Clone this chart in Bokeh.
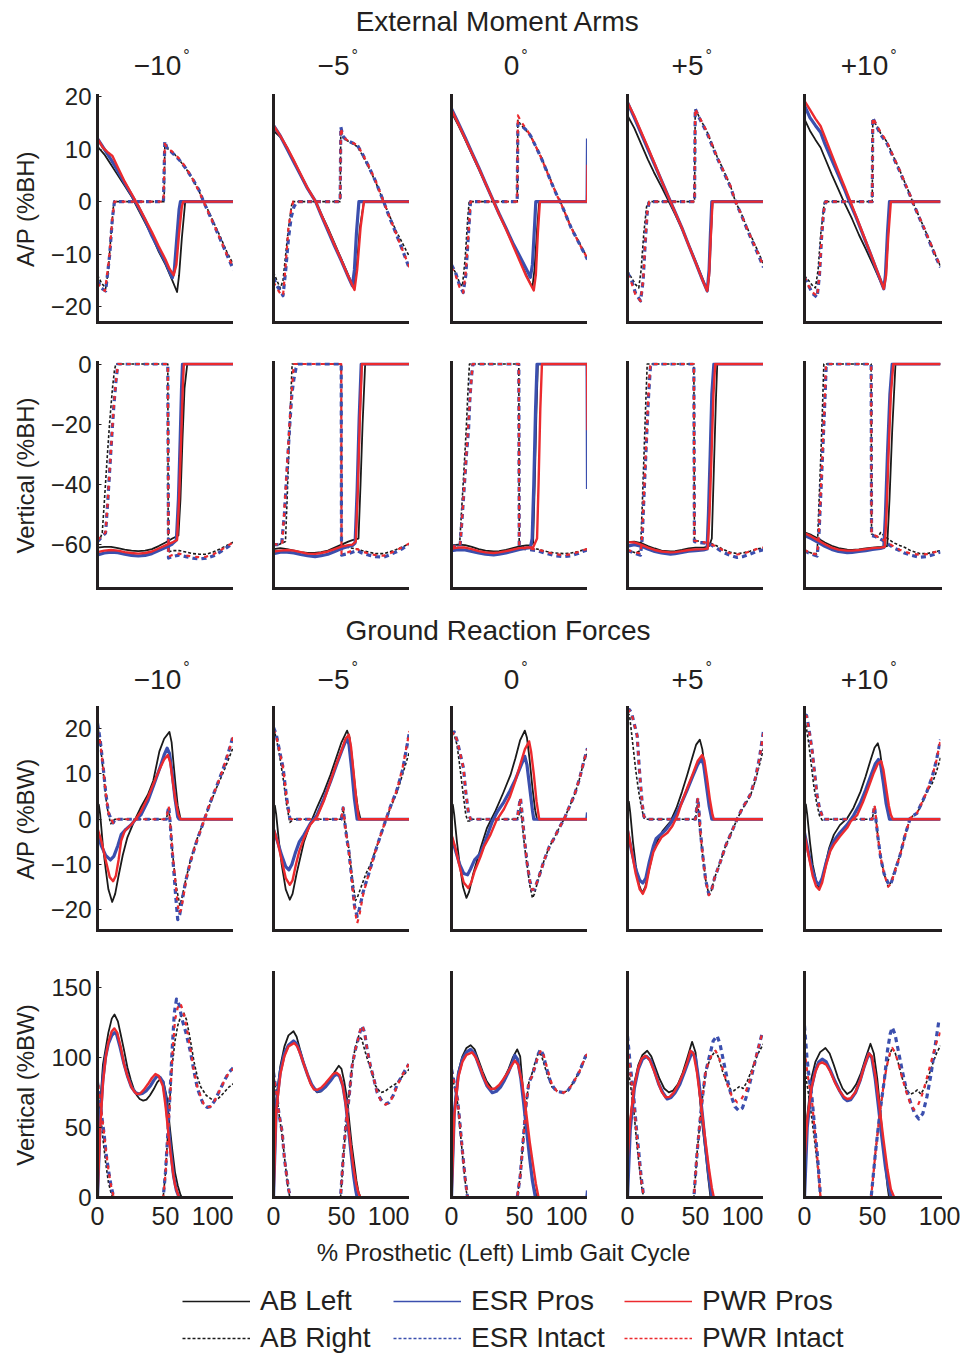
from bokeh.plotting import figure
from bokeh.layouts import column, row
from bokeh.models import Range1d, FixedTicker, Label, Legend, LegendItem
from bokeh.embed import file_html
from bokeh.resources import INLINE
from bokeh.core.validation import silence
from bokeh.core.validation.warnings import MISSING_RENDERERS

silence(MISSING_RENDERERS, True)

# ---------------------------------------------------------------- labels
ANGLES = ["\u221210", "\u22125", "0", "+5", "+10"]
SERIES = ["AB Left", "AB Right", "ESR Pros", "ESR Intact", "PWR Pros", "PWR Intact"]
X_TICKS = [0, 50, 100]
Y_TICKS_MA_AP = [-20, -10, 0, 10, 20]
Y_TICKS_MA_V = [-60, -40, -20, 0]
Y_TICKS_GRF_AP = [-20, -10, 0, 10, 20]
Y_TICKS_GRF_V = [0, 50, 100, 150]

# ---------------------------------------------------------------- data
# each series: five curves (-10, -5, 0, +5, +10 deg), each a list of (% gait cycle, value)

# External moment arm, A/P (%BH)
MA_AP_AB_LEFT = [
    [(0,10.5),(5,9),(10,7),(15,5),(20,3),(25,1),(30,-1.5),(35,-4),(40,-6.5),(45,-9.5),(50,-12),(55,-15),(58.5,-17.2),(60,-14),(62,-7),(64.5,0),(100,0)],
    [(0,13.5),(5,12.3),(10,10.3),(15,7.5),(20,5),(25,2.5),(31,0),(35,-2.3),(40,-5),(45,-8),(50,-11),(55,-14),(59,-16.5),(61,-13),(63.5,-5),(66.5,0),(100,0)],
    [(0,17),(5,14.5),(10,11.8),(15,9),(20,6.2),(25,3.4),(31,0),(35,-2.3),(40,-5),(45,-8),(50,-11),(55,-14),(59.5,-16.3),(61,-13),(63,-5),(64.5,0),(100,0)],
    [(0,16.4),(5,14),(10,11),(15,8),(19.4,5.6),(25,2.8),(30.4,0),(35,-2.4),(40,-5.2),(45,-8.2),(50,-11.3),(55,-14.5),(58.6,-17),(60,-14),(61,-8),(62.5,0),(100,0)],
    [(0,15.7),(4,13.5),(8,11.8),(11.8,10.3),(15,8.3),(20,5.2),(25,2.3),(28.9,0),(35,-3.3),(40,-6.3),(45,-9),(50,-11.8),(55,-14.7),(58.3,-16.6),(60,-13),(61.5,-6),(63,0),(100,0)],
]
MA_AP_AB_RIGHT = [
    [(0,-14),(3,-15.5),(6,-16.5),(8,-13),(10,-6),(12,0),(49,0),(49.5,10.5),(52,10),(56,9.2),(60,8),(65,6.3),(70,4.3),(75,1.8),(78,0),(82,-2),(86,-4.3),(90,-6.5),(95,-9.5),(100,-12)],
    [(0,-13.5),(2.5,-15),(5,-16.5),(7,-15),(9,-10),(11,-5),(13.7,0),(49,0),(49.5,13.5),(51,12.2),(53,11.8),(57,11.2),(61.5,10.5),(65,9),(70,6.5),(75,3.8),(81,0),(85,-2.5),(90,-5.5),(95,-8),(100,-10.5)],
    [(0,-12.2),(3,-13.5),(6,-15.5),(8,-16.1),(10,-11),(12,-3),(13,0),(48.3,0),(48.8,15.5),(51,14.6),(55,13.5),(58,12.6),(62,10.5),(66,8.5),(70,6),(74,3.5),(78,1),(80,0),(84,-2.5),(88,-4.8),(92,-6.8),(96,-8.8),(100,-10.8)],
    [(0,-13.2),(3,-14.5),(6,-15.8),(8.3,-16.4),(10,-13),(12,-6),(14,-1),(15.7,0),(49.3,0),(49.8,17.5),(52,16.5),(55,15),(58.6,13.2),(62,11),(66,8.5),(70,6.3),(75.7,3),(79.4,0),(84,-2.5),(88,-5),(92,-7.2),(96,-9.5),(100,-11.9)],
    [(0,-14.1),(3,-15),(6,-16),(8,-16.4),(10,-13),(12,-6),(14.7,0),(49.8,0),(50.2,15.5),(53,14.5),(56,13),(60.8,11.3),(65,8.8),(70,6),(74,3.5),(77.9,1.1),(79.4,0),(84,-2.7),(88,-5),(92,-7.5),(96,-10),(100,-12.3)],
]
MA_AP_ESR_PROS = [
    [(0,12),(5,10),(10,8),(15,5.8),(20,3.5),(25,1.3),(30,-1),(35,-3.5),(40,-6.5),(45,-9),(50,-11.5),(55,-14.5),(56.5,-13),(58,-8),(60,-1.5),(61,0),(100,0)],
    [(0,14.5),(5,12.5),(10,10),(15,7.5),(20,5),(25,2.5),(31,0),(35,-2.5),(40,-5.5),(45,-8.5),(50,-11.3),(55,-14.3),(58,-16),(59.5,-13),(61,-6),(62.8,0),(100,0)],
    [(0,17.7),(5,15),(10,12.2),(15,9.3),(20,6.5),(25,3.5),(31,0),(35,-2.3),(40,-5),(45,-7.8),(50,-10.3),(55,-12.8),(58,-14.4),(59.5,-12),(61,-5),(62,0),(99.7,0),(100,12)],
    [(0,18.9),(5,16),(10,13),(15,10),(20,7),(25,4),(31.6,0),(35,-2),(40,-5),(45,-8.3),(50,-11.5),(55,-14.8),(58.6,-17),(60,-13),(61,-6),(62,0),(100,0)],
    [(0,18.3),(4,16),(8,14.5),(11.8,13.2),(15,11),(20,8),(25,5),(30,2),(33,0),(38,-3),(43,-6.3),(48,-9.6),(53,-13),(58.3,-16.6),(59.5,-14),(61,-6),(62.5,0),(100,0)],
]
MA_AP_ESR_INTACT = [
    [(0,-15),(3,-16.5),(6,-17),(9,-10),(11,-3),(12.5,0),(48.5,0),(49.5,11.5),(51,10.3),(55,9.3),(60,8),(65,6.3),(70,4.3),(75,2),(78,0),(82,-2.3),(86,-4.6),(90,-7),(95,-10),(100,-13)],
    [(0,-14.5),(2.5,-16),(5,-17),(7,-17.9),(9,-13),(11,-7),(13,-3),(15,-1),(17.2,0),(49,0),(49.5,14.2),(51,12.5),(53,11.9),(57,11.3),(61.5,10.8),(65,9.3),(70,6.7),(75,3.9),(81,0),(85,-2.8),(90,-6),(95,-9.3),(100,-12.8)],
    [(0,-12),(3,-13.5),(6,-16),(8.6,-17.3),(10.5,-14),(12.5,-6),(14,0),(48.3,0),(48.8,14.8),(51,14.6),(55,13.6),(58,12.6),(62,10.5),(66,8.3),(70,5.8),(74,3.3),(78,0.9),(80,0),(84,-2.5),(88,-5),(92,-7),(96,-9),(100,-11)],
    [(0,-13.5),(3,-15),(6,-17.5),(9.6,-18.9),(11.5,-15),(13,-8),(14.5,-2),(16,0),(49.3,0),(49.8,17.7),(52,16.3),(55,14.8),(58.6,13),(62,10.8),(66,8.3),(70,6),(75.7,2.8),(79.4,0),(84,-2.7),(88,-5.3),(92,-7.7),(96,-10),(100,-12.5)],
    [(0,-14.5),(3,-16),(6,-17.5),(9.3,-18.2),(11,-14),(12.5,-7),(14,-2),(15.5,0),(49.8,0),(50.2,16),(53,14.3),(56,12.8),(60.8,11),(65,8.6),(70,5.8),(74,3.3),(77.9,1),(79.4,0),(84,-2.8),(88,-5.2),(92,-7.7),(96,-10.2),(100,-12.5)],
]
MA_AP_PWR_PROS = [
    [(0,12),(4,10.3),(8,9.3),(11,8.7),(15,6.5),(20,3.8),(25,1.5),(30,-0.8),(35,-3.3),(40,-5.8),(45,-8.5),(50,-11),(53,-12.8),(56,-14),(58,-12),(60,-6),(62,-1),(63,0),(100,0)],
    [(0,14.5),(5,12.5),(10,10.3),(15,7.8),(20,5.2),(25,2.6),(31,0),(35,-2.4),(40,-5.3),(45,-8.3),(50,-11.2),(55,-14.2),(59.6,-16.8),(61.5,-13),(64,-5),(66.5,0),(100,0)],
    [(0,17.5),(5,14.8),(10,12),(15,9.2),(20,6.4),(25,3.5),(31,0),(35,-2.4),(40,-5.2),(45,-8.2),(50,-11.2),(55,-14.2),(60.5,-16.9),(62,-14),(63.5,-6),(65,0),(99.7,0),(100,7)],
    [(0,18.9),(5,16.3),(10,13.3),(15,10.3),(20,7.2),(25,4),(31.6,0),(35,-2),(40,-5),(45,-8.3),(50,-11.5),(55,-14.8),(58.6,-17),(60,-14),(61.2,-7),(62.5,0),(100,0)],
    [(0,19.2),(4,17.5),(8,15.8),(11.8,14.4),(15,12.3),(20,9),(25,5.7),(30,2.5),(33.8,0),(38,-2.8),(43,-6.1),(48,-9.5),(53,-12.9),(58.3,-16.6),(60,-14),(61.5,-7),(63.5,0),(100,0)],
]
MA_AP_PWR_INTACT = [
    [(0,-15.5),(3,-16.5),(5.5,-17),(8.5,-11),(11,-3),(12.5,0),(48.5,0),(49.5,11),(51,10.3),(55,9.5),(60,8.2),(65,6.5),(70,4.3),(75,1.8),(78,0),(82,-2.3),(86,-4.6),(90,-7),(95,-10),(100,-12.5)],
    [(0,-15.3),(2.5,-16.5),(5,-17.5),(7,-17.9),(9,-12),(11,-5),(13,-1.5),(14.5,0),(49,0),(49.5,14),(51,12.5),(53,11.9),(57,11.3),(61.5,10.8),(65,9.3),(70,6.8),(75,4),(81,0),(85,-2.7),(90,-6),(95,-9.3),(100,-12.5)],
    [(0,-12.5),(3,-14),(6,-16.3),(8.6,-17.3),(10.5,-13.5),(12.5,-6),(14,0),(48.3,0),(48.8,16.4),(51,15.3),(55,13.8),(58,12.6),(62,10.5),(66,8.3),(70,5.8),(74,3.3),(78,0.9),(80,0),(84,-2.5),(88,-5),(92,-7),(96,-9),(100,-10.8)],
    [(0,-13.8),(3,-15.5),(6,-17.8),(9.6,-18.9),(11.5,-15),(13,-8),(14.5,-2),(16,0),(49.3,0),(49.8,17.7),(52,16.5),(55,15),(58.6,13.2),(62,11),(66,8.5),(70,6.2),(75.7,3),(79.4,0),(84,-2.6),(88,-5.2),(92,-7.5),(96,-9.8),(100,-12.3)],
    [(0,-14.3),(3,-16),(6,-17.3),(9.3,-18),(11,-14),(12.5,-7),(14,-2),(15.5,0),(49.8,0),(50.2,16),(53,14.6),(56,13.2),(60.8,11.3),(65,8.8),(70,6),(74,3.5),(77.9,1.1),(79.4,0),(84,-2.7),(88,-5),(92,-7.5),(96,-10),(100,-12.3)],
]

# External moment arm, vertical (%BH)
MA_V_AB_LEFT = [
    [(0,-61),(5,-60.8),(10,-60.8),(15,-61.2),(20,-61.7),(25,-62),(30,-62.2),(35,-62),(40,-61.5),(45,-60.5),(50,-59.3),(55,-58),(59.5,-57),(61,-45),(62.5,-25),(64,-8),(66,0),(100,0)],
    [(0,-61.5),(5,-61.2),(10,-61.5),(15,-62),(20,-62.5),(25,-62.8),(30,-62.8),(35,-62.5),(40,-62),(45,-61),(50,-60),(55,-59),(58,-58.5),(62.5,-58),(64,-40),(65.5,-20),(67.4,0),(100,0)],
    [(0,-60.3),(5,-60),(10,-60.2),(15,-60.8),(20,-61.5),(25,-62),(31,-62.3),(35,-62.2),(40,-61.8),(45,-61.2),(50,-60.6),(55,-60.3),(58,-60.2),(60,-59.5),(61.2,-40),(62.5,-15),(63.5,0),(100,0)],
    [(0,-59.2),(5,-59),(10,-59.5),(15,-60.5),(20,-61.3),(25,-62),(31.6,-62.3),(35,-62.2),(40,-61.8),(45,-61.3),(50,-61),(56,-61),(60,-60.5),(62,-58),(63.5,-35),(65,-12),(66,0),(100,0)],
    [(0,-55.9),(5,-56.8),(10,-58),(15,-59.3),(20,-60.4),(25,-61.2),(31.4,-61.7),(35,-61.8),(40,-61.6),(45,-61.3),(50,-61),(56,-60.8),(60.8,-60.5),(62.5,-45),(64.5,-22),(66.9,0),(100,0)],
]
MA_V_AB_RIGHT = [
    [(0,-59),(2,-58),(3.5,-56),(5,-46),(7,-32),(9,-19),(11,-8),(12.5,-2),(13.5,0),(51.7,0),(52,-62.5),(55,-62),(60,-62),(65,-62.5),(70,-63),(75,-63.2),(80,-63.2),(85,-62.5),(90,-61.5),(95,-60.3),(100,-59.2)],
    [(0,-60),(4,-60),(8.8,-59),(10,-45),(11.2,-30),(12.4,-15),(13.7,0),(49.8,0),(50,-60),(55,-61),(61.5,-61.5),(65,-62),(70,-62.5),(75,-63),(81,-63),(85,-62.5),(90,-61.7),(95,-60.7),(100,-59.8)],
    [(0,-62),(3,-61.5),(5.9,-60.5),(7.5,-48),(9.2,-35),(10.8,-22),(12,-10),(13.2,0),(49.5,0),(49.8,-60.5),(55,-61),(62.9,-61.5),(70,-62.3),(76,-62.8),(82.4,-63),(88,-62.8),(93,-62.3),(97,-61.8),(100,-61.5)],
    [(0,-62),(3,-62.3),(6,-62.8),(9.6,-62),(11,-45),(12.3,-28),(13.5,-12),(14.5,0),(48.8,0),(49.2,-58.5),(53,-59),(57,-59.2),(61,-59.5),(65,-60.3),(70,-61.5),(75,-62.5),(80.6,-63),(85,-62.8),(90,-62.2),(95,-61.5),(100,-61)],
    [(0,-62),(3,-62.5),(6,-63),(9.3,-63),(10.5,-48),(11.8,-33),(13,-18),(14.2,0),(49,0),(49.3,-56.5),(52,-57),(54,-57.5),(56,-56),(58.3,-57),(62,-58.3),(66,-59.5),(70,-60.3),(73.5,-60.9),(78,-62),(84.6,-63),(90,-63),(95,-62.5),(100,-62)],
]
MA_V_ESR_PROS = [
    [(0,-63.5),(5,-62.8),(10,-62.5),(15,-62.7),(20,-63.2),(25,-63.6),(30,-63.8),(35,-63.6),(40,-63),(45,-62),(50,-61),(55,-59.8),(58,-58.5),(59.5,-45),(60.8,-25),(61.8,-8),(62.5,0),(100,0)],
    [(0,-63),(5,-62.5),(10,-62.5),(15,-62.8),(20,-63.3),(25,-63.7),(30.6,-64),(35,-63.7),(40,-63.2),(45,-62.3),(50,-61.3),(55,-60.6),(58,-60.3),(60,-59.5),(61.5,-42),(63,-18),(64.5,0),(100,0)],
    [(0,-62),(5,-61.7),(10,-61.8),(15,-62.3),(20,-62.8),(25,-63.2),(31,-63.4),(35,-63.2),(40,-62.8),(45,-62.2),(50,-61.6),(55,-61.2),(58,-61),(59.3,-58),(60.5,-40),(61.8,-15),(62.9,0),(99.7,0),(100,-41.5)],
    [(0,-60.5),(5,-60),(10,-60.5),(15,-61.5),(20,-62.3),(25,-62.8),(31.6,-63.2),(35,-63),(40,-62.6),(45,-62.2),(50,-62),(56,-61.8),(58.5,-61.5),(59.5,-50),(60.8,-30),(62,-10),(63.5,0),(100,0)],
    [(0,-57),(5,-58),(10,-59.3),(15,-60.6),(20,-61.6),(25,-62.3),(31.4,-62.7),(35,-62.6),(40,-62.3),(45,-62),(50,-61.6),(55.9,-61.3),(58.3,-61),(59.5,-50),(61,-30),(62.8,-10),(64.5,0),(100,0)],
]
MA_V_ESR_INTACT = [
    [(0,-59),(3,-57.5),(5.9,-56.2),(7.5,-46),(9,-35),(10.5,-24),(12,-14),(13.5,-6),(15,0),(51.7,0),(52.2,-64.5),(55,-64),(60,-63.5),(65,-64),(70,-64.5),(75,-64.8),(80,-64.5),(85,-63.8),(90,-62.5),(95,-61),(100,-59.5)],
    [(0,-60),(3,-60),(6,-59.8),(8,-50),(10,-35),(12,-20),(13.5,-10),(15,-5),(16.5,-1.5),(18,0),(49.8,0),(50,-63.5),(55,-63),(61.5,-62),(65,-62.8),(70,-63.5),(75,-64),(81,-64.2),(85,-63.5),(90,-62.5),(95,-61.3),(100,-60)],
    [(0,-61),(3,-60.5),(6.3,-60.5),(8,-50),(9.5,-40),(11,-30),(12.5,-22),(13.5,-12),(14.5,-5),(15.7,0),(49.5,0),(49.8,-61),(55,-61.5),(62.9,-62),(70,-63),(76,-63.7),(82.4,-64),(88,-63.7),(93,-63),(97,-62.2),(100,-61.8)],
    [(0,-62),(3,-62.5),(6,-63),(9.6,-63.5),(10.8,-58),(12.3,-42),(13.8,-27),(15.3,-12),(17,0),(48.8,0),(49.2,-59),(53,-59.3),(57,-59.5),(61,-60),(65,-61),(70,-62.5),(75,-63.5),(80.6,-64.3),(85,-64),(90,-63.2),(95,-62.3),(100,-61.7)],
    [(0,-62),(3,-62.8),(6,-63.3),(9.3,-63.8),(10.5,-58),(12,-43),(13.5,-28),(15,-12),(16,0),(49,0),(49.3,-57),(52,-57.3),(55,-58),(58.3,-58.8),(62,-60),(66,-61.2),(70,-62),(73.5,-62.8),(78,-63.5),(84.6,-64.2),(90,-64),(95,-63.3),(100,-62.5)],
]
MA_V_PWR_PROS = [
    [(0,-62.5),(5,-62),(10,-61.8),(15,-62),(20,-62.5),(25,-62.8),(30,-63),(35,-62.8),(40,-62.3),(45,-61.3),(50,-60.3),(55,-59.3),(58.5,-58.5),(60,-45),(61.5,-25),(62.7,-8),(63.5,0),(100,0)],
    [(0,-62.3),(5,-62),(10,-61.8),(15,-62),(20,-62.5),(25,-63),(30.6,-63.1),(35,-62.8),(40,-62.3),(45,-61.5),(50,-60.7),(55,-60.2),(58,-60),(60.5,-59),(62,-42),(63.5,-18),(65,0),(100,0)],
    [(0,-61.3),(5,-61),(10,-61),(15,-61.5),(20,-62.2),(25,-62.6),(31,-62.8),(35,-62.6),(40,-62.2),(45,-61.7),(50,-61.2),(55,-61),(60,-61),(62.9,-58),(64,-40),(65.3,-15),(66.5,0),(99.7,0),(100,-22)],
    [(0,-59.2),(5,-59.3),(10,-60),(15,-61),(20,-61.8),(25,-62.3),(31.6,-62.6),(35,-62.5),(40,-62.2),(45,-61.8),(50,-61.6),(56,-61.5),(59,-61.3),(60.3,-50),(61.8,-30),(63.2,-10),(64.5,0),(100,0)],
    [(0,-56.2),(5,-57.3),(10,-58.6),(15,-59.9),(20,-61),(25,-61.7),(31.4,-62),(35,-62),(40,-61.8),(45,-61.5),(50,-61.2),(55.9,-61),(59,-60.8),(60.3,-50),(61.8,-30),(63.5,-10),(65.3,0),(100,0)],
]
MA_V_PWR_INTACT = [
    [(0,-58.5),(3,-57.3),(5.9,-56),(7.5,-46),(9,-35),(10.5,-24),(12,-14),(13.5,-6),(15,0),(51.7,0),(52.2,-64),(55,-63.5),(60,-63),(65,-63.6),(70,-64),(75,-64.2),(80,-64),(85,-63.3),(90,-62),(95,-60.6),(100,-59.2)],
    [(0,-59.8),(3,-60),(6.4,-59.8),(8.5,-45),(10.5,-30),(12.5,-15),(14.9,0),(49.8,0),(50,-63),(55,-62.5),(61.5,-61.5),(65,-62.3),(70,-63),(75,-63.5),(81,-63.7),(85,-63),(90,-62),(95,-60.8),(100,-59.6)],
    [(0,-60.8),(3,-60.5),(6.3,-60.3),(8.3,-48),(10,-36),(11.8,-24),(13.5,-12),(15.5,0),(49.5,0),(49.8,-61),(55,-61.3),(62.9,-61.6),(70,-62.5),(76,-63.2),(82.4,-63.5),(88,-63.2),(93,-62.5),(97,-61.8),(100,-61.5)],
    [(0,-61.8),(3,-62.2),(6,-62.6),(9.6,-63),(10.8,-57),(12.3,-41),(13.8,-26),(15.3,-11),(16.8,0),(48.8,0),(49.2,-58.7),(53,-59),(57,-59.3),(61,-59.8),(65,-60.6),(70,-61.8),(75,-62.8),(80.6,-63.3),(85,-63),(90,-62.3),(95,-61.5),(100,-61)],
    [(0,-61.8),(3,-62.5),(6,-63),(9.3,-63.3),(10.5,-57),(12,-42),(13.5,-27),(15,-11),(15.8,0),(49,0),(49.3,-56.7),(52,-57),(55,-57.7),(58.3,-58.5),(62,-59.6),(66,-60.8),(70,-61.7),(73.5,-62.3),(78,-63),(84.6,-63.4),(90,-63.2),(95,-62.6),(100,-62)],
]

# Ground reaction force, A/P (%BW)
GRF_AP_AB_LEFT = [
    [(0,0),(1,3.2),(2,1),(4,-6),(6,-11),(8,-15.5),(10.8,-18.3),(13,-16.5),(15.5,-12.5),(18.6,-7.9),(22,-4),(27,-0.4),(32,2.7),(37,5.4),(41,8.5),(45.5,15),(49,17.8),(52.9,19.3),(54.5,17),(56,12),(57.4,7.6),(59,3),(61,0.2),(62,0),(100,0)],
    [(0,0),(1,3),(2,1),(4,-5),(6,-10),(9,-15.5),(12,-17.8),(14,-16.5),(17,-12),(22.3,-5.1),(27,-1),(32.1,2.7),(37,6),(41.9,9.8),(46,13.5),(50,17),(54.1,19.6),(56,18),(58,13),(60,7),(62,2.5),(64,0),(100,0)],
    [(0,0),(1,3.2),(2,1),(4,-5),(6,-10),(8.5,-15),(11,-17.4),(13,-16),(16,-12),(21.3,-6.5),(26,-2),(32.4,1.9),(38,5.8),(43.4,9.8),(47,13.5),(50.5,17.5),(53.9,19.6),(55.5,18),(57.5,13),(59.5,7),(61.5,2),(62.9,0),(100,0)],
    [(0,0),(1,3.9),(2,1.5),(4,-5),(6,-10),(8.5,-14.5),(10.8,-16.3),(13,-15),(16,-11),(19,-7),(21.8,-4.9),(26,-2.5),(31.6,-0.5),(36,2.5),(40,6),(43.9,9.8),(47.5,13.5),(50.5,16.5),(53.2,17.6),(55,15.5),(57,11),(59,6),(61,2),(62.3,0),(100,0)],
    [(0,0),(1,3.3),(2,1),(4,-5),(6,-10),(8.5,-13.5),(10.5,-15.2),(12.5,-14),(15,-10.5),(18,-6.5),(21.6,-3.4),(26,-1.3),(31.4,0.2),(36,2.5),(41.2,6.1),(45,9.5),(48.5,13),(51.5,15.8),(53.9,16.8),(55.5,15),(57.5,10.5),(59.5,5.5),(61.5,1.5),(62.5,0),(100,0)],
]
GRF_AP_AB_RIGHT = [
    [(0,21),(2,17),(4,11),(6,5),(8,1),(9.8,-1),(11.5,-0.3),(13,0),(50.6,0),(52.4,2.5),(53.5,-1),(54.5,-5),(56,-10),(58,-15),(60.5,-19),(62,-17.5),(64,-14.5),(68.4,-9),(73,-4.5),(78.2,-0.4),(83,3.5),(88,7.3),(92,10),(96,13),(100,16.1)],
    [(0,20),(2,18),(4.5,14),(7.1,9),(9.5,3.5),(12,-0.7),(13.5,-0.3),(15,0),(49.8,0),(51.2,2.3),(52.5,-1),(54,-4),(55.4,-6.4),(57.5,-12),(60.3,-18),(62,-17),(65,-14.5),(68,-12),(71.3,-10),(75,-6.8),(79,-3.3),(82.3,-0.4),(86,2.5),(90.9,6),(95,10),(100,15)],
    [(0,19),(2,18.7),(4,16.5),(6,12),(8.8,5),(10.5,1),(12,-0.4),(13.5,-0.4),(15,0),(48.3,0),(49.5,0.8),(50.7,2.5),(52,-1),(53.5,-5.5),(55.5,-10),(57.5,-14.5),(59.5,-17.4),(61,-16.5),(64,-13),(68.1,-9.1),(72,-6),(75.5,-4.2),(79,-2),(82.8,0),(86,2.3),(90.2,5.2),(94,8.8),(97.5,13),(100,14.8)],
    [(0,23.5),(1.5,23),(3,19),(4.5,15),(6,11),(8,6.5),(10,3),(12,0.3),(13.5,0),(50,0),(51.7,4),(52.5,0),(53.7,-4),(55.5,-8.5),(57.5,-13.5),(59.8,-16.6),(61.5,-16),(64,-13),(68.4,-9.3),(72,-6),(75.7,-3.4),(78,-1.8),(80.6,0),(84,2),(87,3.5),(90.4,5.2),(94,8.5),(97,12),(100,15.7)],
    [(0,22),(1.5,20),(3,17),(5,12),(7,7),(9,3.5),(11,0.8),(13,-0.2),(14,0),(49.8,0),(51.5,2.8),(52.5,0),(54,-4),(56,-8.5),(58.5,-12),(61.5,-14.9),(63.5,-14),(66,-11.5),(70.3,-7.9),(74,-3.5),(77.7,0.2),(80,0.8),(82.6,1.3),(86,3.2),(90,6.1),(94,8),(97,10.5),(100,13.6)],
]
GRF_AP_ESR_PROS = [
    [(0,-3.4),(3,-6),(6,-8),(9.5,-9),(12,-8.2),(15,-5.8),(17.4,-3.4),(21,-2.2),(24.8,-1.2),(28,0),(32,1),(37,4),(41.9,8),(46,11.5),(49,14.2),(51.2,15.7),(53,14.5),(55,10),(57,4.5),(59,0.5),(60,0),(100,0)],
    [(0,-2.3),(3,-5),(6,-8),(9,-10.5),(11.3,-11.2),(13.5,-10),(16,-7.5),(19,-5),(22.3,-3.5),(27,-1),(32.1,1),(37,4.5),(41.9,8.3),(46,11.8),(50,15),(53.9,17.9),(55.5,16.5),(57.5,11),(59.5,4.5),(61.5,0),(100,0)],
    [(0,-4),(3,-7),(6,-10),(9,-12),(11.8,-12.3),(14,-11),(17,-9),(21.3,-7.6),(24,-5.5),(27,-3),(30,-0.5),(34,1.8),(38.5,3.8),(43,6.3),(47,8.8),(51,11.8),(53.9,13.9),(55.5,12),(57.5,7),(59.5,2),(60.5,0),(99.5,0),(100,1.5)],
    [(0,-2.5),(3,-7),(6,-11),(9,-13.5),(11.3,-14.1),(13.5,-13),(16,-9.5),(19,-6),(21,-4.3),(24,-3.5),(28,-2.4),(32,-0.8),(36,1.3),(40,3.8),(43.9,6.5),(48,9.5),(51.5,12),(54.4,13.5),(56,12),(58,7.5),(60,3),(62,0),(100,0)],
    [(0,-3),(3,-7.5),(6,-11.5),(8.5,-13.8),(10.8,-14.5),(13,-13),(16,-9.5),(19,-6.5),(21.6,-4.8),(26,-3),(31.4,-1.2),(36,0.8),(41,3.5),(45,6.5),(49,9.8),(52,12.2),(54.4,13.2),(56,12),(58,8),(60,3.5),(62.5,0),(100,0)],
]
GRF_AP_ESR_INTACT = [
    [(0,21.2),(2,17.5),(4,12),(6,6),(8,1.5),(10,0),(11.5,-0.8),(13,0),(50.6,0),(52.4,2.8),(53.5,-1),(54.5,-5.5),(56,-11),(57.5,-17),(59,-22.2),(60.5,-21),(62.5,-17.5),(65,-13.5),(68.4,-9.3),(73,-4.8),(78.2,-0.4),(83,3.8),(88,7.6),(92,10.8),(96,14.5),(100,18.7)],
    [(0,20.3),(2,18.8),(4.5,15),(7.1,11.3),(9.5,5),(12,0.2),(13,0),(49.8,0),(51.2,2.5),(52.5,-1),(54,-4.5),(55.4,-7),(57.5,-13),(59.5,-19),(61.5,-21.5),(63,-20),(66,-16),(71.3,-10.8),(75,-7),(79,-3.3),(82.3,-0.4),(86,2.8),(90.9,6.6),(95,11),(100,19.3)],
    [(0,18.7),(2,19.3),(4,17.5),(6,15),(8.8,11.3),(10.5,6),(12.5,1.3),(14,0),(48.3,0),(49.5,2.5),(50.7,4.7),(52,1),(53.5,-4),(55.5,-9.5),(57.5,-13.5),(59.3,-15.6),(61,-15.5),(64,-13),(68.1,-9.1),(72,-6),(75.5,-4.2),(79,-2),(82.8,0),(86,2.3),(90.2,5.2),(94,8.8),(97.5,13),(100,15.7)],
    [(0,23.8),(1.5,24.2),(3,23.5),(5,21),(7.1,18.5),(8.5,12),(9.6,7.6),(11,3),(12,0.7),(13.5,0),(50,0),(51.7,4.7),(52.5,2),(53.7,-3),(55.5,-8.5),(57.5,-13.5),(59.8,-16.6),(61.5,-16),(64,-13),(68.4,-9.3),(72,-6),(75.7,-3.4),(78,-1.8),(80.6,0),(84,2.2),(87,3.7),(90.4,5.5),(94,9),(97,13.5),(100,19.5)],
    [(0,23.1),(1.5,23),(3,20.5),(5.6,15.2),(7.5,10),(9.3,5.2),(11,2.5),(13,0.7),(14.5,0),(49.8,0),(51.5,2.8),(52.5,0),(54,-4),(56,-8.5),(58.5,-12),(62,-14.5),(63.5,-14.3),(66,-12),(70.3,-7.9),(74,-3.5),(77.7,0.2),(80,0.8),(82.6,1.3),(86,3.5),(90,6.1),(94,9.5),(97,13),(100,17.6)],
]
GRF_AP_PWR_PROS = [
    [(0,-2),(3,-5),(6,-9),(9,-12.8),(11.5,-13.7),(13.5,-12.5),(15.5,-9),(17.4,-4.8),(20,-2.6),(24.8,-1.2),(28,0),(32,1.7),(37,4.8),(41.9,8.4),(46,11.3),(49,13.2),(51.7,14.2),(53.5,12.5),(55.5,8),(57.4,4.2),(59.5,1),(61,0),(100,0)],
    [(0,-2),(3,-5),(6,-9),(9,-13),(12,-14.5),(14,-13.5),(16.5,-10),(19,-7),(22.3,-4.3),(27,-1.2),(32.1,0.6),(37,4),(41.9,8.4),(46,12),(50,15.2),(53,17.8),(55.4,18.7),(57,16),(59,10),(61,4),(62.8,0),(100,0)],
    [(0,-3.4),(3,-6.5),(6,-10.5),(9,-14),(12.3,-15.2),(14.5,-14),(17,-11.5),(21.3,-8.3),(24,-6),(28.7,-3.4),(33,-0.3),(38.5,2.2),(43,5),(47,8.5),(51,12.5),(54,15.5),(57.1,17.2),(58.5,15),(60.5,10),(62.5,4),(64.5,0),(100,0)],
    [(0,-2),(3,-7),(6,-12),(9,-15.5),(11.3,-16.5),(13.5,-15),(16,-11),(19,-7.3),(21.8,-5.6),(25,-4),(29.4,-3),(33,-1.5),(37,1),(40,3.8),(43.9,6.9),(48,10),(51.5,12.8),(54.9,14.2),(56.5,13),(58.5,9),(60.5,4.5),(62.5,1),(63.5,0),(100,0)],
    [(0,-3.4),(3,-8),(6,-12.5),(8.5,-14.8),(10.8,-15.6),(13,-14),(16,-10),(19,-7),(21.6,-5.6),(26,-3.8),(31.4,-1.9),(34,-0.5),(38.7,0.9),(43,3.8),(47,7),(51,10.3),(54,12.3),(56.4,12.8),(58,11),(60,7),(62,3),(63.5,1),(65,0),(100,0)],
]
GRF_AP_PWR_INTACT = [
    [(0,19.5),(2,17),(4,12),(6,6),(8,1.5),(10,0),(11.5,-0.8),(13,0),(50.6,0),(52.4,2.8),(53.5,-1),(54.5,-5),(56,-10),(58,-16),(59.8,-20.8),(61.5,-20),(63.5,-16.5),(65.5,-13),(68.4,-9.3),(73,-4.8),(78.2,-0.4),(83,3.8),(88,7.6),(92,10.8),(96,14.5),(100,18.5)],
    [(0,19.8),(2,18.5),(4.5,15),(7.1,11.3),(9.5,5),(12,0.2),(13,0),(49.8,0),(51.2,2.5),(52.5,-1),(54,-4.5),(55.4,-7),(57.5,-13),(59.5,-19.5),(61.5,-23),(63,-21.5),(66,-16.5),(71.3,-10.8),(75,-7),(79,-3.3),(82.3,-0.4),(86,2.8),(90.9,6.6),(95,11.5),(100,19.5)],
    [(0,18.5),(2,19.2),(4,17.5),(6,15),(8.8,11.3),(10.5,6),(12.5,1.3),(14,0),(48.3,0),(49.5,2.5),(50.7,4.7),(52,1),(53.5,-4),(55.5,-9.5),(57.5,-13.5),(59.3,-15.6),(61,-15.5),(64,-13),(68.1,-9.1),(72,-6),(75.5,-4.2),(79,-2),(82.8,0),(86,2.3),(90.2,5.2),(94,8.8),(97.5,13),(100,15.5)],
    [(0,23.5),(1.5,24),(3,23.3),(5,21),(7.1,18.5),(8.5,12),(9.6,7.6),(11,3),(12,0.7),(13.5,0),(50,0),(51.7,4.5),(52.5,2),(53.7,-3),(55.5,-8.5),(57.5,-13.5),(59.8,-16.8),(61.5,-16.2),(64,-13),(68.4,-9.3),(72,-6),(75.7,-3.4),(78,-1.8),(80.6,0),(84,2.2),(87,3.7),(90.4,5.5),(94,9),(97,13.3),(100,19)],
    [(0,22.8),(1.5,22.8),(3,20.3),(5.6,15.2),(7.5,10),(9.3,5.2),(11,2.5),(13,0.7),(14.5,0),(49.8,0),(51.5,3.2),(52.5,0.5),(54,-4),(56,-8.5),(58.5,-12),(61.5,-14.9),(63.5,-14.3),(66,-12),(70.3,-7.9),(74,-3.5),(77.7,0.2),(80,0.8),(82.6,1.3),(86,3.5),(90,6.1),(94,9.5),(97,13),(100,17.5)],
]

# Ground reaction force, vertical (%BW)
GRF_V_AB_LEFT = [
    [(0,0),(2.2,70),(4,95),(5.9,106),(8,118),(10.5,128),(12.5,131),(15,126),(17,117),(19.4,106),(22,93),(24.5,84),(26.7,77.6),(29,73),(31,70.5),(33.6,69.3),(36,70),(38.5,73),(41.4,77.6),(44,82.5),(46.3,84.8),(48.5,83),(51.2,70.5),(53,52),(54.9,34.8),(57,18),(59,8.6),(61,2),(62,0),(100,0)],
    [(0,0),(2,70),(5,94),(8,108),(11,116),(14.7,119),(17,115),(19.5,106),(22.1,96.7),(25,88),(28,80),(32.1,75.2),(35,76),(38,79),(41.9,84.8),(45,90),(48,94.3),(50,92),(52,83),(54.1,70.5),(56,52),(57.5,38),(59,27),(61,12),(62.5,4),(64,0),(100,0)],
    [(0,0),(2,62),(5,90),(8,101),(11,107),(14,109),(17,106),(20,98),(23,90),(26,83),(30,77.6),(33,78),(36,81),(39,86),(42,92),(45,100),(48.3,106),(50.5,101),(53.2,70.5),(55.5,48),(58.1,22.4),(60.5,8),(62.9,0),(100,0)],
    [(0,0),(2,55),(5,82),(8,95),(11,102),(14.5,105),(17.5,101),(20.5,93),(23.5,85),(27,78),(30.4,75.2),(33.5,76.5),(37,81),(40.5,89),(44,100),(47.5,111.4),(50,104),(52,85),(53.7,65.7),(55.5,48),(57.4,32.4),(59,17),(61,0),(100,0)],
    [(0,0),(2,58),(5,85),(8,97),(11.5,104),(15.4,107),(18.5,103),(21.5,95),(24.5,86),(28,78),(31.4,74),(34.5,76),(38,81),(41.5,89),(45,100),(48.5,110),(51,103),(53.5,85),(55.5,65),(57.5,42),(59.5,22),(61,8),(62.2,0),(100,0)],
]
GRF_V_AB_RIGHT = [
    [(0,80),(1,72),(2.2,61),(4,42),(6,25),(8,11),(10,3),(11.5,0),(48.3,0),(50,18),(51.5,42),(53,68),(55,95),(57,112),(59,123),(61,129),(63.5,132),(65.5,127),(68.4,112),(71,97),(73.5,86),(76,79),(80,73),(85.5,69.3),(89,71),(93,75),(96,78.5),(100,81.4)],
    [(0,88),(2,76),(4,60),(6.4,44),(8.5,25),(10.5,8),(12,0),(49.3,0),(51.7,33),(54,60),(55.4,72),(57.8,94),(60,107),(62.7,115.7),(65,113),(67.5,104),(70,96),(72.5,89),(75,80),(78.7,75),(82,76),(86,79),(91,82),(95,87),(100,92)],
    [(0,90),(2,80),(4.4,68),(6,52),(8.1,30),(10,12),(11,4),(12,0),(48.3,0),(50.5,15),(53.2,46.7),(55,68),(56.9,82.4),(59.3,89),(61.5,97),(64,103.8),(66,102),(68.5,94),(71,86),(74,79),(78,76),(82.4,75),(86,77),(90,83),(94,90),(98.5,100),(100,102)],
    [(0,96.7),(2,82),(4.7,62),(6.5,42),(8.3,25),(10,10),(11.5,2),(12.5,0),(48.8,0),(51.2,32.4),(53.7,58.6),(55.5,75),(57.4,89.5),(60,97),(62.5,102),(64.7,105),(67,100),(70,90),(73,82),(76,77),(78.2,76.4),(80.5,78),(82.5,79.5),(85,78),(88,83),(92,93),(96,103),(100,110)],
    [(0,94),(2,80),(3.5,70.5),(5.6,55),(7.5,40),(9.3,25),(10.8,8),(11.8,0),(49,0),(52.2,32.4),(55.2,58.6),(57,72),(58.8,84.8),(61,96),(63,103),(64.5,107),(66.5,104),(69,96),(72,85),(75,77),(77.9,74),(80.5,75),(83,77),(85.5,74),(88,78),(91,86),(94,95),(97,103),(100,108.6)],
]
GRF_V_ESR_PROS = [
    [(0,0),(2,55),(4,85),(6,101),(8,110),(10.5,116),(12.4,118),(14,117),(16.5,108),(19.4,96),(22,87),(25,79),(28,75),(30.4,74),(33,74.5),(36,76.5),(39,80),(41.5,84),(43.9,87),(46,86),(48,83),(50,72),(52,52),(54,32),(56,15),(58,5),(60,0),(100,0)],
    [(0,0),(2,65),(5,90),(8,103),(11,109),(14.7,112),(17,110),(19.5,104),(22.1,96),(25,88),(28,81),(30,78),(32.1,76),(35,76.5),(38,79),(41.9,83.5),(44.5,87),(46.3,88.3),(48.5,87),(51,80),(53,68),(55,50),(57,32),(59,15),(60.5,5),(61.5,0),(100,0)],
    [(0,0),(2,60),(5,88),(8,99),(11,104),(14,106),(17,103),(20,95),(23,87),(26,80),(30,75),(33,76),(36,79),(39,84),(42,90),(45,97),(46.6,101.7),(48.5,99),(51,85),(53,68),(55,50),(57.5,28),(59.5,12),(61.7,0),(99.5,0),(100,5)],
    [(0,0),(2,48),(5,78),(8,92),(11,99),(14,101),(17,98),(20,90),(23,81),(26,75),(29.2,70.5),(32,71.5),(35,75),(38.5,81),(42,90),(45,98),(47.5,104),(50,100),(52.5,83),(55,60),(57.5,35),(60,14),(62,0),(100,0)],
    [(0,0),(2,50),(5,78),(8,91),(10.5,97),(13,99),(16,97),(19,91),(22.5,83),(26,76),(29,71),(31.4,69.3),(34,70),(37.5,75),(41,84),(44,94),(47.3,103.1),(49.5,100),(52,85),(54.5,64),(57,42),(59.5,22),(62,7),(63.7,0),(100,0)],
]
GRF_V_ESR_INTACT = [
    [(0,82.4),(2,66),(4.7,46.7),(6.5,30),(8.3,18),(10,8),(12,0),(48.3,0),(50,18.1),(52.5,58.6),(54.9,106),(56.5,132),(58.1,142),(60,138),(62,128),(65,118),(68.4,104),(71,90),(73.5,78),(76,71),(78,66.5),(80.6,64.5),(83,65),(86,69),(90,77),(94,85),(97,90),(100,93)],
    [(0,89.5),(2,76),(4,60),(6.4,46.7),(8,28),(10,13.3),(11.3,5),(12.5,0),(49.3,0),(51.7,34.8),(53.5,55),(55.4,70.5),(57.8,94),(60,105),(61.5,110.5),(63.5,118),(65.2,122.9),(67,118),(69,105),(71.3,94),(74,84),(76.2,75.2),(79,70),(82.4,66.9),(85,68),(88,73),(91,81),(95,88),(99.5,95.5)],
    [(0,91.9),(2,82),(4.4,70.5),(6,55),(8.1,32.4),(10,14),(11.8,0),(48.3,0),(50.5,15),(53.2,46.7),(55,68),(56.9,82.4),(59.3,87),(61.5,94),(63.5,102),(65.4,106),(67.5,102),(70,92),(73,82),(77,76),(82.4,75),(86,77),(90,83),(94,90),(98.5,101),(100,102.6)],
    [(0,115.7),(2,95),(4.7,70.5),(6.5,50),(8.3,32.4),(10,15),(12,0),(48.8,0),(51.2,32.4),(53.7,58.6),(55.5,75),(57.4,89.5),(60,100),(63,112),(65.9,115.7),(68,110),(70.5,98),(73.5,84),(76.5,72),(79,65),(81.9,62.1),(84.5,64),(87,71),(90,82),(93.5,96),(96.5,108),(99,117.4),(100,118)],
    [(0,122.9),(1.8,100),(3.5,85),(5.6,70.5),(7.5,50),(9.3,32.4),(10.8,14),(11.8,0),(49,0),(52.2,32.4),(55.2,58.6),(57,72),(58.8,84.8),(61,105),(63,117),(64.5,121.7),(66.5,117),(69,105),(72,90),(75,77),(78,68),(81,60),(84.1,56.2),(87,60),(90,72),(93,88),(96,108),(98.8,126.4),(100,127)],
]
GRF_V_PWR_PROS = [
    [(0,0),(2,50),(4,82),(6,100),(8,111),(10.5,119),(12.4,121),(14.5,118),(17,108),(19.4,96),(22,87),(25,79),(27,76),(29,74),(31.5,74.5),(34,77),(37,81),(40,85.5),(42.6,88.3),(45,87),(48,80),(50,65.7),(52,47),(53.7,32),(55.5,18),(57,9),(58.6,4),(60,0),(100,0)],
    [(0,0),(2,62),(5,88),(8,101),(11,108),(15.2,110.5),(17.5,108),(20,102),(22.1,96),(25,88),(27,82),(29.7,77.4),(32.1,77),(35,78.5),(38,81.5),(41.9,86),(44,88.5),(46.3,89.3),(48.5,87.5),(51,80),(53,68),(55,52),(57,35),(59,20),(61,9),(62.5,3),(64,0),(100,0)],
    [(0,0),(2,58),(5,86),(8,97),(11,102),(15.2,103.8),(18,100),(21,93),(24,85),(26.5,80),(28.9,77.6),(32,78),(35,80.5),(38,84.5),(41,89),(44,94),(46.6,97.9),(49,95),(52,82),(55.2,58.6),(57.5,40),(60.1,22.4),(62,10),(64,0),(100,0)],
    [(0,25),(2,55),(5,80),(8,93),(10.5,99.5),(13.2,101.4),(16,99),(19,92),(22,84),(25,76),(27.9,71.7),(31,72),(34,75),(37.5,81),(41,89),(44,97),(46.3,105),(48.5,103),(51,90),(54,67),(57,43),(60,20),(62,7),(63.5,0),(100,0)],
    [(0,25),(2,55),(5,78),(8,90),(10.5,95.5),(13,96.7),(16,95),(19,90),(22.5,82),(26,76),(29,72),(31.4,70.5),(34,71),(37.5,75.5),(41,84),(44,94),(47.3,103.1),(49.5,101),(52,88),(55,66),(58,42),(61,20),(63.5,6),(66,0),(100,0)],
]
GRF_V_PWR_INTACT = [
    [(0,87),(2,68),(4.7,47),(6.5,31),(8.3,18),(10,8),(12,0),(48.3,0),(50,17),(52.5,56),(54.9,100),(57,127),(59,136),(61,139),(63,133),(65.5,122),(68.4,106),(71,90),(73.5,79),(76,72),(78,67),(80.6,64.5),(83,65),(86,69),(90,77),(94,85),(97,90),(100,92)],
    [(0,89),(2,76),(4,60),(6.4,46.7),(8,28),(10,13.3),(11.3,5),(12.5,0),(49.3,0),(51.7,34.8),(53.5,55),(55.4,70.5),(57.8,94),(60,105),(61.5,110.5),(63.5,119),(65.2,123),(67,118),(69,105),(71.3,94),(74,84),(76.2,75.2),(79,69),(82.4,66.5),(85,67.5),(88,72.5),(91,80),(95,88),(99.5,95.5)],
    [(0,91),(2,82),(4.4,70.5),(6,55),(8.1,32.4),(10,14),(11.8,0),(48.3,0),(50.5,15),(53.2,46.7),(55,68),(56.9,82.4),(59.3,87),(61.5,94),(64,102),(66,105.5),(68,101),(70.5,92),(73.5,82),(77.5,76),(82.4,75),(86,77),(90,83),(94,90),(98.5,101),(100,102.6)],
    [(0,108.6),(2,90),(4.7,68),(6.5,48),(8.3,30),(10,13),(11.5,3),(12.5,0),(48.8,0),(51.2,32.4),(53.7,58.6),(55.5,75),(57.4,89.5),(60,98),(62.5,103),(64.7,105),(67,101),(70,92),(73,82),(76.5,73),(80.6,68.1),(83.5,70),(87,76),(90,84),(93.5,97),(96.5,108),(99,117.4),(100,118)],
    [(0,106),(2,90),(3.5,80),(5.6,68),(7.5,48),(9.3,30),(10.8,12),(11.8,0),(49,0),(52.2,32.4),(55.2,58.6),(57,72),(58.8,84.8),(61,96),(63,104),(64.5,107),(66.5,104),(69,96),(72,85),(75,75),(77.5,68),(80.4,63),(83,65),(86,72),(89,82),(92,93),(95,104),(98,114),(100,118)],
]

# ---------------------------------------------------------------- styling
FONT = "Liberation Sans"
TEXT = "#231f20"
AXIS = "#231f20"
BLACK = "#1a1a1a"
BLUE = "#3b4fae"
RED = "#ec2a2e"
STYLE = {
    "AB Left":    dict(color=BLACK, width=1.8, dash="solid"),
    "AB Right":   dict(color=BLACK, width=1.6, dash="3 2"),
    "ESR Pros":   dict(color=BLUE, width=3.2, dash="solid"),
    "ESR Intact": dict(color=BLUE, width=3.2, dash="5 4"),
    "PWR Pros":   dict(color=RED, width=2.4, dash="solid"),
    "PWR Intact": dict(color=RED, width=2.2, dash="4 5"),
}

ROWS = [
    dict(data={"AB Left": MA_AP_AB_LEFT, "AB Right": MA_AP_AB_RIGHT, "ESR Pros": MA_AP_ESR_PROS,
               "ESR Intact": MA_AP_ESR_INTACT, "PWR Pros": MA_AP_PWR_PROS, "PWR Intact": MA_AP_PWR_INTACT},
         yr=(-23, 20.2), ticks=Y_TICKS_MA_AP, ylabel="A/P (%BH)", h=227, top=13, bottom=20, xt=False),
    dict(data={"AB Left": MA_V_AB_LEFT, "AB Right": MA_V_AB_RIGHT, "ESR Pros": MA_V_ESR_PROS,
               "ESR Intact": MA_V_ESR_INTACT, "PWR Pros": MA_V_PWR_PROS, "PWR Intact": MA_V_PWR_INTACT},
         yr=(-74.6, 0.5), ticks=Y_TICKS_MA_V, ylabel="Vertical (%BH)", h=226, top=20, bottom=12, xt=False),
    dict(data={"AB Left": GRF_AP_AB_LEFT, "AB Right": GRF_AP_AB_RIGHT, "ESR Pros": GRF_AP_ESR_PROS,
               "ESR Intact": GRF_AP_ESR_INTACT, "PWR Pros": GRF_AP_PWR_PROS, "PWR Intact": GRF_AP_PWR_INTACT},
         yr=(-24.6, 24.7), ticks=Y_TICKS_GRF_AP, ylabel="A/P (%BW)", h=223, top=10, bottom=20, xt=False),
    dict(data={"AB Left": GRF_V_AB_LEFT, "AB Right": GRF_V_AB_RIGHT, "ESR Pros": GRF_V_ESR_PROS,
               "ESR Intact": GRF_V_ESR_INTACT, "PWR Pros": GRF_V_PWR_PROS, "PWR Intact": GRF_V_PWR_INTACT},
         yr=(0, 161), ticks=Y_TICKS_GRF_V, ylabel="Vertical (%BW)", h=225, top=22, bottom=38, xt=True),
]

FRAME_W = 136
COL_LEFT = [97, 40, 42, 40, 41]
COL_RIGHT = [0, 0, 0, 0, 20]
TOTAL_W = sum(COL_LEFT) + sum(COL_RIGHT) + 5 * FRAME_W


def frame_lefts():
    out, x = [], 0
    for c in range(5):
        x += COL_LEFT[c]
        out.append(x)
        x += FRAME_W + COL_RIGHT[c]
    return out


def split(curve):
    return [pt[0] for pt in curve], [pt[1] for pt in curve]


def make_panel(spec, col):
    p = figure(frame_width=FRAME_W, frame_height=spec["h"],
               x_range=Range1d(0, 100), y_range=Range1d(*spec["yr"]),
               min_border_left=COL_LEFT[col], min_border_right=COL_RIGHT[col],
               min_border_top=spec["top"], min_border_bottom=spec["bottom"],
               toolbar_location=None, tools="", output_backend="svg")
    p.grid.visible = False
    p.outline_line_color = None
    for s in SERIES:
        xs, ys = split(spec["data"][s][col])
        st = STYLE[s]
        p.line(xs, ys, line_color=st["color"], line_width=st["width"], line_dash=st["dash"],
               line_join="round")
    xa, ya = p.xaxis[0], p.yaxis[0]
    for ax in (xa, ya):
        ax.axis_line_width = 3
        ax.axis_line_color = AXIS
        ax.axis_line_cap = "square"
        ax.minor_tick_line_color = None
        ax.major_label_text_font = FONT
        ax.major_label_text_color = TEXT
    if spec["xt"]:
        xa.ticker = FixedTicker(ticks=X_TICKS)
        xa.major_label_text_font_size = "25px"
        xa.major_tick_line_color = None
        xa.major_tick_in = 0
        xa.major_tick_out = 0
        xa.major_label_standoff = 9
    else:
        xa.ticker = FixedTicker(ticks=[])
        xa.major_label_text_font_size = "0px"
        xa.major_tick_line_color = None
    if col == 0:
        ya.ticker = FixedTicker(ticks=spec["ticks"])
        ya.major_label_overrides = {t: "\u2212" + str(-t) for t in spec["ticks"] if t < 0}
        ya.major_label_text_font_size = "24px"
        ya.major_tick_in = 4
        ya.major_tick_out = 0
        ya.major_tick_line_width = 1
        ya.major_tick_line_color = AXIS
        ya.major_label_standoff = 6
        ya.axis_label = spec["ylabel"]
        ya.axis_label_text_font = FONT
        ya.axis_label_text_font_size = "24px"
        ya.axis_label_text_font_style = "normal"
        ya.axis_label_text_color = TEXT
        ya.axis_label_standoff = 9
    else:
        ya.ticker = FixedTicker(ticks=[])
        ya.major_label_text_font_size = "0px"
        ya.major_tick_line_color = None
    return p


def band(h):
    p = figure(width=TOTAL_W, height=h, x_range=Range1d(0, TOTAL_W), y_range=Range1d(h, 0),
               x_axis_location=None, y_axis_location=None, min_border=0,
               toolbar_location=None, tools="", output_backend="svg")
    p.grid.visible = False
    p.outline_line_color = None
    return p


CHAR_W = {"\u2212": 0.584, "+": 0.584}


def text_width(s, size):
    return sum(CHAR_W.get(ch, 0.556) for ch in s) * size


def add_headers(p, title, title_mid, head_mid, deg_mid):
    lefts = frame_lefts()
    p.add_layout(Label(x=497.5, y=title_mid, text=title, text_align="center",
                       text_baseline="middle", text_font=FONT, text_font_size="28px",
                       text_color=TEXT))
    for c, a in enumerate(ANGLES):
        cx = lefts[c] + FRAME_W / 2 - 8
        p.add_layout(Label(x=cx, y=head_mid, text=a, text_align="center",
                           text_baseline="middle", text_font=FONT, text_font_size="28px",
                           text_color=TEXT))
        p.add_layout(Label(x=cx + text_width(a, 28) / 2 + 2, y=deg_mid, text="\u00b0",
                           text_align="left", text_baseline="middle", text_font=FONT,
                           text_font_size="16px", text_color=TEXT))


top_band = band(82)
add_headers(top_band, "External Moment Arms", 21, 65, 55)

mid_band = band(97)
add_headers(mid_band, "Ground Reaction Forces", 30, 78.5, 67)

BOTTOM_H = 118
bottom_band = band(BOTTOM_H)
bottom_band.add_layout(Label(x=503, y=17, text="% Prosthetic (Left) Limb Gait Cycle",
                             text_align="center", text_baseline="middle", text_font=FONT,
                             text_font_size="24px", text_color=TEXT))
LEGEND_GROUPS = [("AB Left", "AB Right"), ("ESR Pros", "ESR Intact"), ("PWR Pros", "PWR Intact")]
LEGEND_X = [182, 393, 624]
NAN = float("nan")
for gi, names in enumerate(LEGEND_GROUPS):
    items = []
    for n in names:
        st = STYLE[n]
        r = bottom_band.line(x=[NAN, NAN], y=[NAN, NAN], line_color=st["color"], line_width=1.4,
                             line_dash="solid" if st["dash"] == "solid" else "3 2")
        items.append(LegendItem(label=n, renderers=[r]))
    lg = Legend(items=items, location=(LEGEND_X[gi], BOTTOM_H - 119), orientation="vertical",
                padding=0, margin=0, spacing=5, glyph_width=68, glyph_height=32,
                label_height=32, label_standoff=10, label_text_font=FONT,
                label_text_font_size="28px", label_text_color=TEXT,
                border_line_color=None, background_fill_alpha=0)
    bottom_band.add_layout(lg)

rows = [row(*[make_panel(spec, c) for c in range(5)]) for spec in ROWS]

layout = column(top_band, rows[0], rows[1], mid_band, rows[2], rows[3], bottom_band)

with open("out.html", "w") as f:
    f.write(file_html(layout, INLINE))
